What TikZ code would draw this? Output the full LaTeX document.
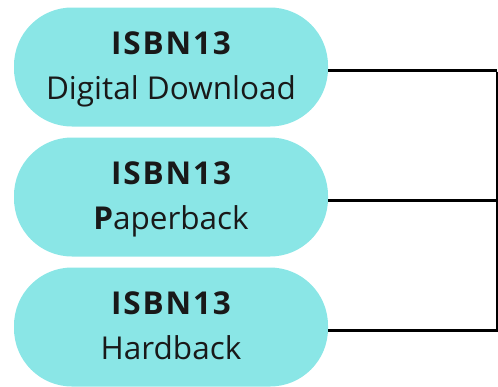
\documentclass[tikz,border=0pt]{standalone}
\usepackage{fontspec}
\setmainfont{Open Sans}
\definecolor{turq}{RGB}{138,230,230}
\definecolor{ink}{RGB}{25,25,25}
\newcommand{\isbnlabel}{{\bfseries\addfontfeature{LetterSpace=6}ISBN13}}
\begin{document}
\begin{tikzpicture}[x=1pt,y=-1pt,
  fmtbox/.style={fill=turq, draw=none, rounded corners=58pt, minimum width=314pt, minimum height=119pt,
    align=center, inner sep=0pt, text height=64pt, text depth=0pt,
    font=\fontsize{31.5}{45}\selectfont, text=ink},
  link/.style={line width=3pt, black}]
\useasboundingbox (0,0) rectangle (498,386);
\node[fmtbox] (dig) at (171,67) {\isbnlabel\\Digital Download};
\node[fmtbox] (pap) at (171,197) {\isbnlabel\\\textbf{P}aperback};
\node[fmtbox] (har) at (171,327) {\isbnlabel\\Hardback};
\coordinate (v1) at (497,70);
\coordinate (v2) at (497,200);
\coordinate (v3) at (497,330);
\draw[link] (dig.east |- v1) -- (v1);
\draw[link] (pap.east |- v2) -- (v2);
\draw[link] (har.east |- v3) -- ([xshift=1.5pt]v3);
\draw[line width=2pt] ([yshift=-1.5pt]v1) -- (v3);
\end{tikzpicture}
\end{document}
